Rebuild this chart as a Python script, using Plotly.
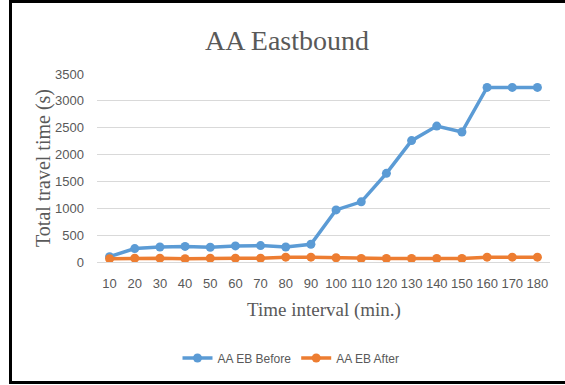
import plotly.graph_objects as go

intervals = [10, 20, 30, 40, 50, 60, 70, 80, 90, 100, 110, 120, 130, 140, 150, 160, 170, 180]
x_labels = [str(v) for v in intervals]
eb_before = [100, 250, 280, 290, 275, 300, 305, 280, 330, 970, 1120, 1650, 2260, 2530, 2420, 3250, 3250, 3250]
eb_after = [60, 70, 70, 60, 70, 70, 70, 90, 90, 80, 65, 65, 65, 65, 65, 90, 90, 90]
y_ticks = [0, 500, 1000, 1500, 2000, 2500, 3000, 3500]

W, H = 565, 385
L, R, T, B = 97, 15, 74, 123
pw, ph = W - L - R, H - T - B

def px(x):
    return (x - L) / pw

def py(y):
    return 1 - (y - T) / ph

fig = go.Figure()
fig.add_trace(go.Scatter(x=x_labels, y=eb_before, name="AA EB Before", mode="lines+markers",
                         line=dict(color="#5B9BD5", width=3.5), marker=dict(size=9, color="#5B9BD5")))
fig.add_trace(go.Scatter(x=x_labels, y=eb_after, name="AA EB After", mode="lines+markers",
                         line=dict(color="#ED7D31", width=3.5), marker=dict(size=9, color="#ED7D31")))

tickfont = dict(family="Liberation Sans, Arial, sans-serif", size=13, color="#595959")
serif = "Liberation Serif, Times New Roman, serif"

fig.update_layout(
    width=W, height=H,
    margin=dict(l=L, r=R, t=T, b=B),
    paper_bgcolor="white", plot_bgcolor="white",
    title=dict(text="AA Eastbound", x=287 / W, xanchor="center", xref="container",
               y=1 - 40 / H, yanchor="middle", yref="container",
               font=dict(family=serif, size=28, color="#595959")),
    xaxis=dict(type="category", range=[-0.5, 17.5], showgrid=False, zeroline=False,
               showline=False, ticks="", tickfont=tickfont, ticklabelstandoff=12, fixedrange=True),
    yaxis=dict(range=[0, 3500], tickvals=y_ticks, showgrid=True, gridcolor="#D9D9D9", gridwidth=1,
               zeroline=True, zerolinecolor="#D9D9D9", zerolinewidth=1, showline=False, ticks="",
               tickfont=tickfont, ticklabelstandoff=12, fixedrange=True),
    legend=dict(orientation="h", xref="container", yref="container", x=291 / W, xanchor="center",
                y=1 - 358 / H, yanchor="middle", font=dict(family="Liberation Sans, Arial, sans-serif",
                                                          size=12, color="#595959"),
                itemwidth=30, tracegroupgap=0),
    showlegend=True,
    annotations=[
        dict(text="Time interval (min.)", xref="paper", yref="paper", x=0.5, y=py(310),
             xanchor="center", yanchor="middle", showarrow=False,
             font=dict(family=serif, size=19, color="#595959")),
        dict(text="Total travel time (s)", xref="paper", yref="paper", x=px(43), y=py(168),
             xanchor="center", yanchor="middle", showarrow=False, textangle=-90,
             font=dict(family=serif, size=20, color="#595959")),
    ],
    shapes=[
        dict(type="line", xref="paper", yref="paper", x0=px(10.5), x1=px(10.5), y0=py(1), y1=py(383),
             line=dict(color="black", width=3)),
        dict(type="line", xref="paper", yref="paper", x0=px(9), x1=px(566), y0=py(1.5), y1=py(1.5),
             line=dict(color="black", width=3)),
        dict(type="line", xref="paper", yref="paper", x0=px(9), x1=px(566), y0=py(382.5), y1=py(382.5),
             line=dict(color="black", width=3)),
    ],
)

fig.write_html("out.html")
